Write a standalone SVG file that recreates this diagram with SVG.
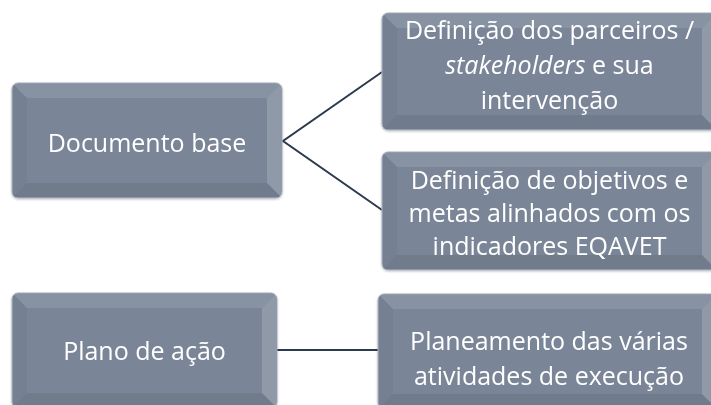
<svg xmlns="http://www.w3.org/2000/svg" width="711" height="405" viewBox="0 0 711 405">
<style>
.base{fill:#7a8698;stroke:#a7b0be;stroke-width:1}
.bt{fill:#ffffff;fill-opacity:0.10}
.bl{fill:#000000;fill-opacity:0.04}
.br{fill:#ffffff;fill-opacity:0.16}
.bb{fill:#000000;fill-opacity:0.08}
.lbl{font-family:"Open Sans","Liberation Sans",sans-serif;font-size:25px;fill:#ffffff;text-anchor:middle}
.con{fill:none;stroke:#2b3a4e;stroke-width:2}
</style>
<defs>
<filter id="sh" x="-5%" y="-5%" width="110%" height="115%">
<feGaussianBlur in="SourceAlpha" stdDeviation="1.2"/>
<feOffset dx="0" dy="1" result="b"/>
<feFlood flood-color="#000" flood-opacity="0.25"/>
<feComposite in2="b" operator="in"/>
<feMerge><feMergeNode/><feMergeNode in="SourceGraphic"/></feMerge>
</filter>
</defs>
<g id="connectors">
<polyline class="con" points="382,72 283,141 382,210"/>
<line class="con" x1="277" y1="350" x2="378" y2="350"/>
</g>
<g id="n1" filter="url(#sh)">
<rect class="base" x="12" y="83" width="270" height="115" rx="6"/>
<polygon class="bt" points="13,84 281,84 267,98 27,98"/>
<polygon class="bl" points="13,84 27,98 27,183 13,197"/>
<polygon class="br" points="281,84 281,197 267,183 267,98"/>
<polygon class="bb" points="13,197 27,183 267,183 281,197"/>
<text class="lbl" x="147" y="152">Documento base</text>
</g>
<g id="n2" filter="url(#sh)">
<rect class="base" x="382" y="13" width="335" height="117" rx="6"/>
<polygon class="bt" points="383,14 716,14 702,28 397,28"/>
<polygon class="bl" points="383,14 397,28 397,115 383,129"/>
<polygon class="br" points="716,14 716,129 702,115 702,28"/>
<polygon class="bb" points="383,129 397,115 702,115 716,129"/>
<text class="lbl" x="549.5" y="39">Definição dos parceiros /</text>
<text class="lbl" x="549.5" y="74"><tspan font-style="italic">stakeholders</tspan> e sua</text>
<text class="lbl" x="549.5" y="109">intervenção</text>
</g>
<g id="n3" filter="url(#sh)">
<rect class="base" x="382" y="152" width="335" height="118" rx="6"/>
<polygon class="bt" points="383,153 716,153 702,167 397,167"/>
<polygon class="bl" points="383,153 397,167 397,255 383,269"/>
<polygon class="br" points="716,153 716,269 702,255 702,167"/>
<polygon class="bb" points="383,269 397,255 702,255 716,269"/>
<text class="lbl" x="549.5" y="189">Definição de objetivos e</text>
<text class="lbl" x="549.5" y="222">metas alinhados com os</text>
<text class="lbl" x="549.5" y="255">indicadores EQAVET</text>
</g>
<g id="n4" filter="url(#sh)">
<rect class="base" x="12" y="293" width="265" height="115" rx="6"/>
<polygon class="bt" points="13,294 276,294 262,308 27,308"/>
<polygon class="bl" points="13,294 27,308 27,393 13,407"/>
<polygon class="br" points="276,294 276,407 262,393 262,308"/>
<polygon class="bb" points="13,407 27,393 262,393 276,407"/>
<text class="lbl" x="144.5" y="360">Plano de ação</text>
</g>
<g id="n5" filter="url(#sh)">
<rect class="base" x="378" y="294" width="339" height="115" rx="6"/>
<polygon class="bt" points="379,295 716,295 702,309 393,309"/>
<polygon class="bl" points="379,295 393,309 393,394 379,408"/>
<polygon class="br" points="716,295 716,408 702,394 702,309"/>
<polygon class="bb" points="379,408 393,394 702,394 716,408"/>
<text class="lbl" x="549" y="350">Planeamento das várias</text>
<text class="lbl" x="549" y="385">atividades de execução</text>
</g>
</svg>
